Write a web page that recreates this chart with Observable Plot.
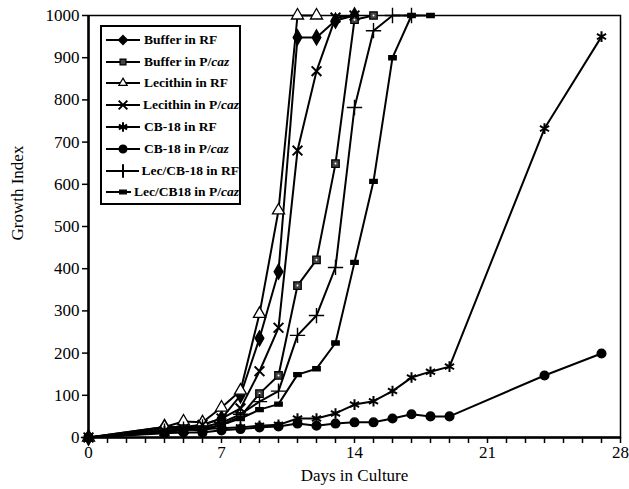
<!DOCTYPE html>
<html>
<head>
<meta charset="utf-8">
<script src="https://cdn.jsdelivr.net/npm/d3@7"></script>
<script src="https://cdn.jsdelivr.net/npm/@observablehq/plot@0.6"></script>
<style>
  html, body { margin: 0; padding: 0; background: #fff; }
  #wrap { position: relative; width: 629px; height: 489px; font-family: "Liberation Serif", "DejaVu Serif", serif; }
  #legend { position: absolute; left: 100px; top: 25px; width: 137px; height: 174px; border: 2px solid #000; background: #fff; padding: 2px 0 0 0; }
  .row { display: flex; align-items: center; height: 21.8px; font-weight: bold; font-size: 13.5px; color: #000; white-space: nowrap; }
  .row svg { margin-left: 3px; margin-right: 3px; }
  svg text { font-family: "Liberation Serif", serif; }
</style>
</head>
<body>
<div id="wrap"><div id="chart"></div><div id="legend"></div></div>
<script>
// ---- data ----
const seriesNames = ["Buffer in RF", "Buffer in P/caz", "Lecithin in RF", "Lecithin in P/caz",
                     "CB-18 in RF", "CB-18 in P/caz", "Lec/CB-18 in RF", "Lec/CB18 in P/caz"];

const bufferRF_days   = [0, 4, 5, 6, 7, 8, 9, 10, 11, 12, 13, 14];
const bufferRF_vals   = [0, 25, 25, 30, 45, 100, 235, 393, 948, 948, 988, 1000];

const bufferPC_days   = [0, 4, 5, 6, 7, 8, 9, 10, 11, 12, 13, 14, 15];
const bufferPC_vals   = [0, 20, 22, 15, 30, 50, 104, 147, 360, 421, 649, 990, 1000];

const lecRF_days      = [0, 4, 5, 6, 7, 8, 9, 10, 11, 12];
const lecRF_vals      = [0, 25, 38, 36, 71, 111, 293, 538, 1000, 1000];

const lecPC_days      = [0, 4, 5, 6, 7, 8, 9, 10, 11, 12, 13, 14];
const lecPC_vals      = [0, 15, 20, 30, 45, 69, 157, 260, 680, 868, 995, 1000];

const cbRF_days       = [0, 4, 5, 6, 7, 8, 9, 10, 11, 12, 13, 14, 15, 16, 17, 18, 19, 24, 27];
const cbRF_vals       = [0, 15, 18, 20, 22, 24, 28, 30, 45, 45, 57, 78, 86, 110, 142, 156, 168, 732, 950];

const cbPC_days       = [0, 4, 5, 6, 7, 8, 9, 10, 11, 12, 13, 14, 15, 16, 17, 18, 19, 24, 27];
const cbPC_vals       = [0, 10, 12, 12, 17, 20, 24, 26, 33, 28, 33, 36, 36, 45, 55, 50, 50, 147, 199];

const lecCbRF_days    = [0, 4, 5, 6, 7, 8, 9, 10, 11, 12, 13, 14, 15, 16, 17];
const lecCbRF_vals    = [0, 15, 20, 25, 35, 55, 85, 110, 242, 289, 403, 782, 964, 1000, 1000];

const lecCbPC_days    = [0, 4, 5, 6, 7, 8, 9, 10, 11, 12, 13, 14, 15, 16, 17, 18];
const lecCbPC_vals    = [0, 12, 18, 20, 30, 45, 66, 79, 149, 163, 224, 415, 607, 900, 1000, 1000];

const xTicks = [0, 7, 14, 21, 28];
const yTicks = [0, 100, 200, 300, 400, 500, 600, 700, 800, 900, 1000];

// ---- build table ----
const allDays = [bufferRF_days, bufferPC_days, lecRF_days, lecPC_days, cbRF_days, cbPC_days, lecCbRF_days, lecCbPC_days];
const allVals = [bufferRF_vals, bufferPC_vals, lecRF_vals, lecPC_vals, cbRF_vals, cbPC_vals, lecCbRF_vals, lecCbPC_vals];
const data = [];
seriesNames.forEach((s, i) => allDays[i].forEach((d, j) => data.push({series: s, day: d, value: allVals[i][j]})));
const of = s => data.filter(d => d.series === s);

const rectSymbol = { draw(ctx, size) { const w = Math.sqrt(size) * 1.0, h = w * 0.55; ctx.rect(-w/2, -h/2, w, h); } };

const styles = {
  "Buffer in RF":      {symbol: "diamond", r: 4.6, fill: "#000", stroke: "#000"},
  "Buffer in P/caz":   {symbol: "square", r: 4.2, fill: "#444", stroke: "#000"},
  "Lecithin in RF":    {symbol: "triangle", r: 4.5, fill: "#fff", stroke: "#000"},
  "Lecithin in P/caz": {symbol: "times", r: 4.5, fill: "none", stroke: "#000"},
  "CB-18 in RF":       {symbol: "asterisk", r: 5, fill: "none", stroke: "#000"},
  "CB-18 in P/caz":    {symbol: "circle", r: 4.4, fill: "#000", stroke: "#000"},
  "Lec/CB-18 in RF":   {symbol: "plus", r: 5, fill: "none", stroke: "#000"},
  "Lec/CB18 in P/caz": {symbol: rectSymbol, r: 4.2, fill: "#000", stroke: "#000"}
};

const marks = [];
seriesNames.forEach(s => {
  marks.push(Plot.line(of(s), {x: "day", y: "value", stroke: "#000", strokeWidth: 2}));
});
seriesNames.forEach(s => {
  const st = styles[s];
  const sw = (st.symbol === "plus") ? 1.4 : (st.fill === "none" ? 2 : 1.3);
  marks.push(Plot.dot(of(s), {x: "day", y: "value", symbol: () => st.symbol, r: st.r, fill: st.fill, stroke: st.stroke, strokeWidth: sw}));
  if (s === "Buffer in P/caz") marks.push(Plot.dot(of(s), {x: "day", y: "value", r: 1, fill: "#fff"}));
});

const chart = Plot.plot({
  width: 629, height: 489,
  marginLeft: 88, marginRight: 9, marginTop: 15, marginBottom: 52,
  style: {fontFamily: "'Liberation Serif', serif", fontSize: "17px", color: "#000", background: "#fff"},
  x: {domain: [0, 28]},
  y: {domain: [0, 1000]},
  marks: [
    Plot.frame({stroke: "#000", strokeWidth: 1.5}),
    Plot.axisX({ticks: d3.range(0, 29), tickSize: 6, tickFormat: d => xTicks.includes(d) ? String(d) : "", tickPadding: 2, strokeWidth: 1.5, label: null, fontSize: 17}),
    Plot.axisY({ticks: yTicks, tickSize: 6, tickPadding: 3, tickFormat: d3.format("d"), strokeWidth: 1.5, label: null, fontSize: 17}),
    Plot.text(["Days in Culture"], {frameAnchor: "bottom", dy: 43, fontSize: 17}),
    Plot.text(["Growth Index"], {frameAnchor: "left", dx: -71, dy: 14, rotate: -90, fontSize: 17}),
    ...marks,
    Plot.ruleX([0], {stroke: "#000", strokeWidth: 2.5}),
    Plot.ruleY([0], {stroke: "#000", strokeWidth: 2.5})
  ]
});
document.getElementById("chart").appendChild(chart);

// ---- legend ----
const legend = document.getElementById("legend");
seriesNames.forEach(s => {
  const st = styles[s];
  const row = document.createElement("div");
  row.className = "row";
  const ns = "http://www.w3.org/2000/svg";
  const svg = document.createElementNS(ns, "svg");
  svg.setAttribute("width", 36); svg.setAttribute("height", 14);
  const line = document.createElementNS(ns, "line");
  line.setAttribute("x1", 1); line.setAttribute("x2", 35); line.setAttribute("y1", 7); line.setAttribute("y2", 7);
  line.setAttribute("stroke", "#000"); line.setAttribute("stroke-width", 2);
  svg.appendChild(line);
  const symMap = {diamond: d3.symbolDiamond2, square: d3.symbolSquare2, triangle: d3.symbolTriangle2, times: d3.symbolTimes, asterisk: d3.symbolAsterisk, circle: d3.symbolCircle, plus: d3.symbolPlus};
  const type = typeof st.symbol === "string" ? symMap[st.symbol] : st.symbol;
  const p = document.createElementNS(ns, "path");
  p.setAttribute("d", d3.symbol(type, Math.PI * st.r * st.r * 0.8)());
  p.setAttribute("transform", "translate(18,7)");
  p.setAttribute("fill", st.fill); p.setAttribute("stroke", st.stroke);
  p.setAttribute("stroke-width", st.fill === "none" ? 2 : 1.2);
  svg.appendChild(p);
  row.appendChild(svg);
  const span = document.createElement("span");
  if (s.endsWith("P/caz")) {
    span.innerHTML = s.replace("P/caz", "P/<i>caz</i>");
  } else span.textContent = s;
  row.appendChild(span);
  legend.appendChild(row);
});
</script>
</body>
</html>
